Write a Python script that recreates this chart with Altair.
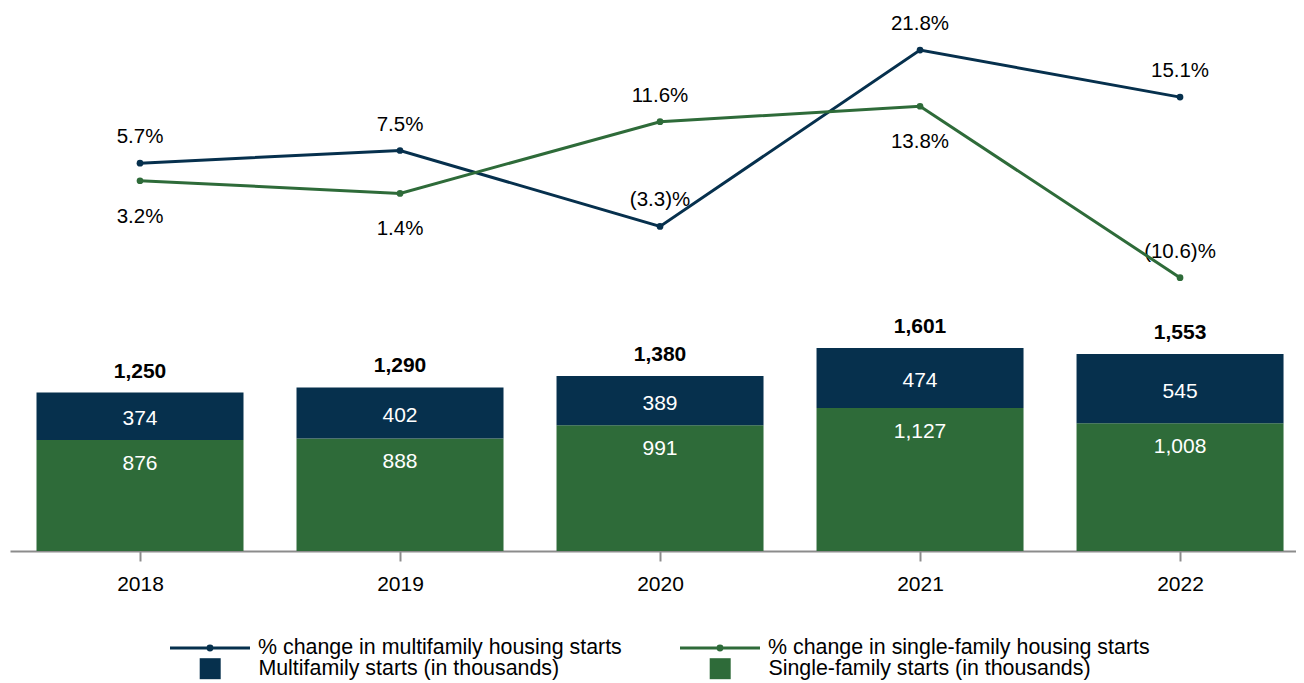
import altair as alt
import pandas as pd

# ---- data ----
years = [2018, 2019, 2020, 2021, 2022]
multifamily = [374, 402, 389, 474, 545]
single_family = [876, 888, 991, 1127, 1008]
mf_change = [5.7, 7.5, -3.3, 21.8, 15.1]
sf_change = [3.2, 1.4, 11.6, 13.8, -10.6]
mf_label_side = ["above", "above", "above", "above", "above"]
sf_label_side = ["below", "below", "above", "below", "above"]

MF_LINE = "% change in multifamily housing starts"
SF_LINE = "% change in single-family housing starts"
MF_BAR = "Multifamily starts (in thousands)"
SF_BAR = "Single-family starts (in thousands)"

NAVY = "#06304d"
GREEN = "#2e6b39"
FONT = "Liberation Sans"


def pct(v):
    return f"{v:.1f}%" if v >= 0 else f"({abs(v):.1f})%"


bars = pd.DataFrame({
    "year": years,
    "mf": multifamily,
    "sf": single_family,
    "total": [m + s for m, s in zip(multifamily, single_family)],
    "mf_name": MF_BAR,
    "sf_name": SF_BAR,
})

lines = pd.DataFrame({
    "year": years * 2,
    "series": [MF_LINE] * 5 + [SF_LINE] * 5,
    "change": mf_change + sf_change,
    "label": [pct(v) for v in mf_change + sf_change],
    "side": mf_label_side + sf_label_side,
})

x_enc = alt.X(
    "year:Q",
    scale=alt.Scale(domain=[2017.5, 2022.446], nice=False, zero=False, padding=0),
    axis=alt.Axis(values=years, format="d", title=None, grid=False,
                  domainColor="#8c8c8c", domainWidth=2,
                  tickColor="#8c8c8c", tickWidth=2, tickSize=10,
                  labelFontSize=21, labelColor="#000000", labelPadding=12,
                  labelFont=FONT),
)

bar_scale = alt.Scale(domain=[0, 4267], nice=False, zero=True)
line_scale = alt.Scale(domain=[-49.5, 27.5], nice=False, zero=False)

LINE_SYM = ("M-3.81,0H3.81"
            "M-0.19,0A0.19,0.19,0,1,1,0.19,0A0.19,0.19,0,1,1,-0.19,0")


def line_legend(lx, ly):
    return alt.Legend(title=None, orient="none", legendX=lx, legendY=ly,
                      symbolType=LINE_SYM, symbolSize=441, symbolStrokeWidth=3,
                      labelFontSize=21.4, labelColor="#000000", labelFont=FONT,
                      labelOffset=36, labelLimit=1000)


def bar_legend(lx, ly):
    return alt.Legend(title=None, orient="none", legendX=lx, legendY=ly,
                      symbolType="square", symbolSize=441, symbolStrokeWidth=0,
                      labelFontSize=21.4, labelColor="#000000", labelFont=FONT,
                      labelOffset=37.5, labelLimit=1000)


base_bars = alt.Chart(bars)

sf_bar = base_bars.mark_bar(size=207).encode(
    x=x_enc,
    y=alt.Y("sf:Q", scale=bar_scale, axis=None),
    y2=alt.datum(0),
    color=alt.Color("sf_name:N", scale=alt.Scale(domain=[SF_BAR], range=[GREEN]),
                    legend=bar_legend(699.5, 648)),
)

mf_bar = base_bars.mark_bar(size=207).encode(
    x=x_enc,
    y=alt.Y("total:Q", scale=bar_scale, axis=None),
    y2="sf:Q",
    color=alt.Color("mf_name:N", scale=alt.Scale(domain=[MF_BAR], range=[NAVY]),
                    legend=bar_legend(189.5, 648)),
)

sf_bar_text = base_bars.mark_text(color="white", fontSize=21, font=FONT,
                                  baseline="middle", dy=24).encode(
    x=x_enc,
    y=alt.Y("sf:Q", scale=bar_scale, axis=None),
    text=alt.Text("sf:Q", format=","),
)

mf_bar_text = base_bars.transform_calculate(
    mid="datum.sf + datum.mf / 2"
).mark_text(color="white", fontSize=21, font=FONT, baseline="middle", dy=3).encode(
    x=x_enc,
    y=alt.Y("mid:Q", scale=bar_scale, axis=None),
    text=alt.Text("mf:Q", format=","),
)

total_text = base_bars.mark_text(color="black", fontSize=21, font=FONT,
                                 fontWeight="bold", baseline="alphabetic",
                                 dy=-15).encode(
    x=x_enc,
    y=alt.Y("total:Q", scale=bar_scale, axis=None),
    text=alt.Text("total:Q", format=","),
)

base_lines = alt.Chart(lines)

mf_line = base_lines.transform_filter(alt.datum.series == MF_LINE).mark_line(
    strokeWidth=3).encode(
    x=x_enc,
    y=alt.Y("change:Q", scale=line_scale, axis=None),
    color=alt.Color("series:N", scale=alt.Scale(domain=[MF_LINE], range=[NAVY]),
                    legend=line_legend(188, 626)),
)

sf_line = base_lines.transform_filter(alt.datum.series == SF_LINE).mark_line(
    strokeWidth=3).encode(
    x=x_enc,
    y=alt.Y("change:Q", scale=line_scale, axis=None),
    color=alt.Color("series:N", scale=alt.Scale(domain=[SF_LINE], range=[GREEN]),
                    legend=line_legend(698, 626)),
)

points = base_lines.mark_circle(size=45, opacity=1).encode(
    x=x_enc,
    y=alt.Y("change:Q", scale=line_scale, axis=None),
    color=alt.Color("series:N",
                    scale=alt.Scale(domain=[MF_LINE, SF_LINE], range=[NAVY, GREEN]),
                    legend=None),
)

text_above = base_lines.transform_filter(alt.datum.side == "above").mark_text(
    color="black", fontSize=20.5, font=FONT, baseline="alphabetic", dy=-20).encode(
    x=x_enc,
    y=alt.Y("change:Q", scale=line_scale, axis=None),
    text="label:N",
)

text_below = base_lines.transform_filter(alt.datum.side == "below").mark_text(
    color="black", fontSize=20.5, font=FONT, baseline="alphabetic", dy=42).encode(
    x=x_enc,
    y=alt.Y("change:Q", scale=line_scale, axis=None),
    text="label:N",
)

chart = alt.layer(
    sf_bar, mf_bar, sf_bar_text, mf_bar_text, total_text,
    text_above, text_below, mf_line, sf_line, points,
).resolve_scale(
    y="independent", color="independent"
).properties(
    width=1286, height=541,
    padding={"left": 2, "top": 2, "right": 0, "bottom": 0},
).configure(font=FONT).configure_view(stroke=None)

chart.save("out.html", embed_options={"renderer": "svg", "actions": False})
